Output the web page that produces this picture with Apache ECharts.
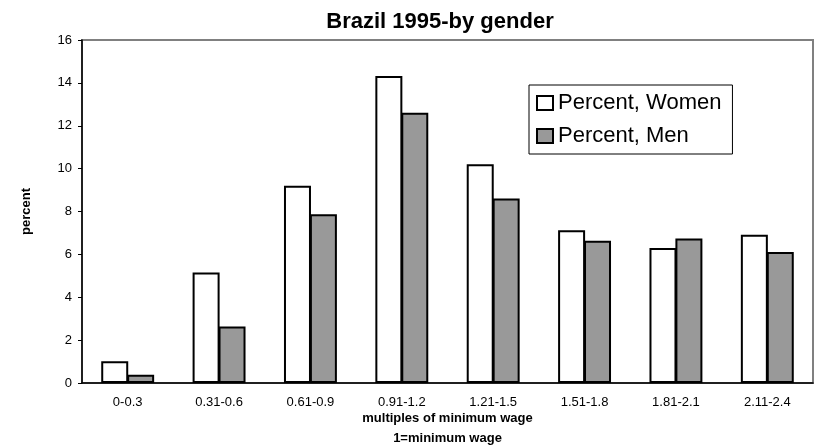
<!DOCTYPE html>
<html lang="en">
<head>
    <meta charset="UTF-8">
    <title>Brazil 1995-by gender</title>
    <style>
        html, body {
            margin: 0;
            padding: 0;
            background: #fff;
        }

        #myEcharts {
            width: 814px;
            height: 448px;
        }
    </style>
    <script src="https://cdn.jsdelivr.net/npm/echarts@6/dist/echarts.min.js"></script>
</head>

<body>
<div id="myEcharts"></div>

<script>
    // wage brackets (multiples of minimum wage)
    var categories = ['0-0.3', '0.31-0.6', '0.61-0.9', '0.91-1.2', '1.21-1.5', '1.51-1.8', '1.81-2.1', '2.11-2.4'];
    // percent of women in each bracket
    var women = [1.02, 5.15, 9.2, 14.32, 10.2, 7.13, 6.3, 6.92];
    // percent of men in each bracket
    var men = [0.38, 2.64, 7.87, 12.61, 8.61, 6.63, 6.74, 6.11];
    // y axis range
    var yMin = 0;
    var yMax = 16;
    var yStep = 2;

    var font = "'Liberation Sans', Arial, sans-serif";

    var myChart = echarts.init(document.getElementById('myEcharts'));

    var option = {
        animation: false,
        backgroundColor: '#fff',
        title: {
            text: 'Brazil 1995-by gender',
            left: 435,
            top: 6,
            textAlign: 'center',
            textStyle: {
                fontFamily: font,
                fontSize: 22,
                fontWeight: 'bold',
                color: '#000'
            }
        },
        legend: {
            orient: 'vertical',
            left: 529,
            top: 85,
            padding: [7, 11, 7, 7],
            itemGap: 11,
            itemWidth: 16,
            itemHeight: 14,
            borderColor: '#000',
            borderWidth: 1,
            icon: 'rect',
            textStyle: {
                fontFamily: font,
                fontSize: 22,
                color: '#000'
            },
            data: ['Percent, Women', 'Percent, Men']
        },
        // plot area: fixed, do not let labels shrink it
        grid: {
            left: 82,
            top: 40,
            right: 1,
            bottom: 65,
            show: true,
            borderColor: '#808080',
            borderWidth: 2,
            containLabel: false,
            outerBoundsMode: 'none'
        },
        xAxis: {
            type: 'category',
            data: categories,
            name: 'multiples of minimum wage\n1=minimum wage',
            nameLocation: 'middle',
            nameGap: 25,
            nameMoveOverlap: false,
            nameTextStyle: {
                fontFamily: font,
                fontSize: 13,
                fontWeight: 'bold',
                color: '#000',
                lineHeight: 20
            },
            axisLine: {
                lineStyle: {color: '#000', width: 1.5}
            },
            axisTick: {
                length: 4,
                lineStyle: {color: '#000'}
            },
            axisLabel: {
                margin: 13,
                fontFamily: font,
                fontSize: 13,
                color: '#000'
            }
        },
        yAxis: {
            type: 'value',
            min: yMin,
            max: yMax,
            interval: yStep,
            name: 'percent',
            nameLocation: 'middle',
            nameRotate: 90,
            nameGap: 49,
            nameMoveOverlap: false,
            nameTextStyle: {
                fontFamily: font,
                fontSize: 13,
                fontWeight: 'bold',
                color: '#000'
            },
            splitLine: {show: false},
            axisLine: {
                show: true,
                lineStyle: {color: '#000', width: 1.5}
            },
            axisTick: {
                show: true,
                length: 4,
                lineStyle: {color: '#000'}
            },
            axisLabel: {
                margin: 10,
                fontFamily: font,
                fontSize: 13,
                color: '#000'
            }
        },
        series: [
            {
                name: 'Percent, Women',
                type: 'bar',
                data: women,
                barWidth: 27,
                barGap: '-4%',
                itemStyle: {
                    color: '#fff',
                    borderColor: '#000',
                    borderWidth: 2
                }
            },
            {
                name: 'Percent, Men',
                type: 'bar',
                data: men,
                barWidth: 27,
                itemStyle: {
                    color: '#999999',
                    borderColor: '#000',
                    borderWidth: 2
                }
            }
        ]
    };

    myChart.setOption(option);
</script>
</body>
</html>
